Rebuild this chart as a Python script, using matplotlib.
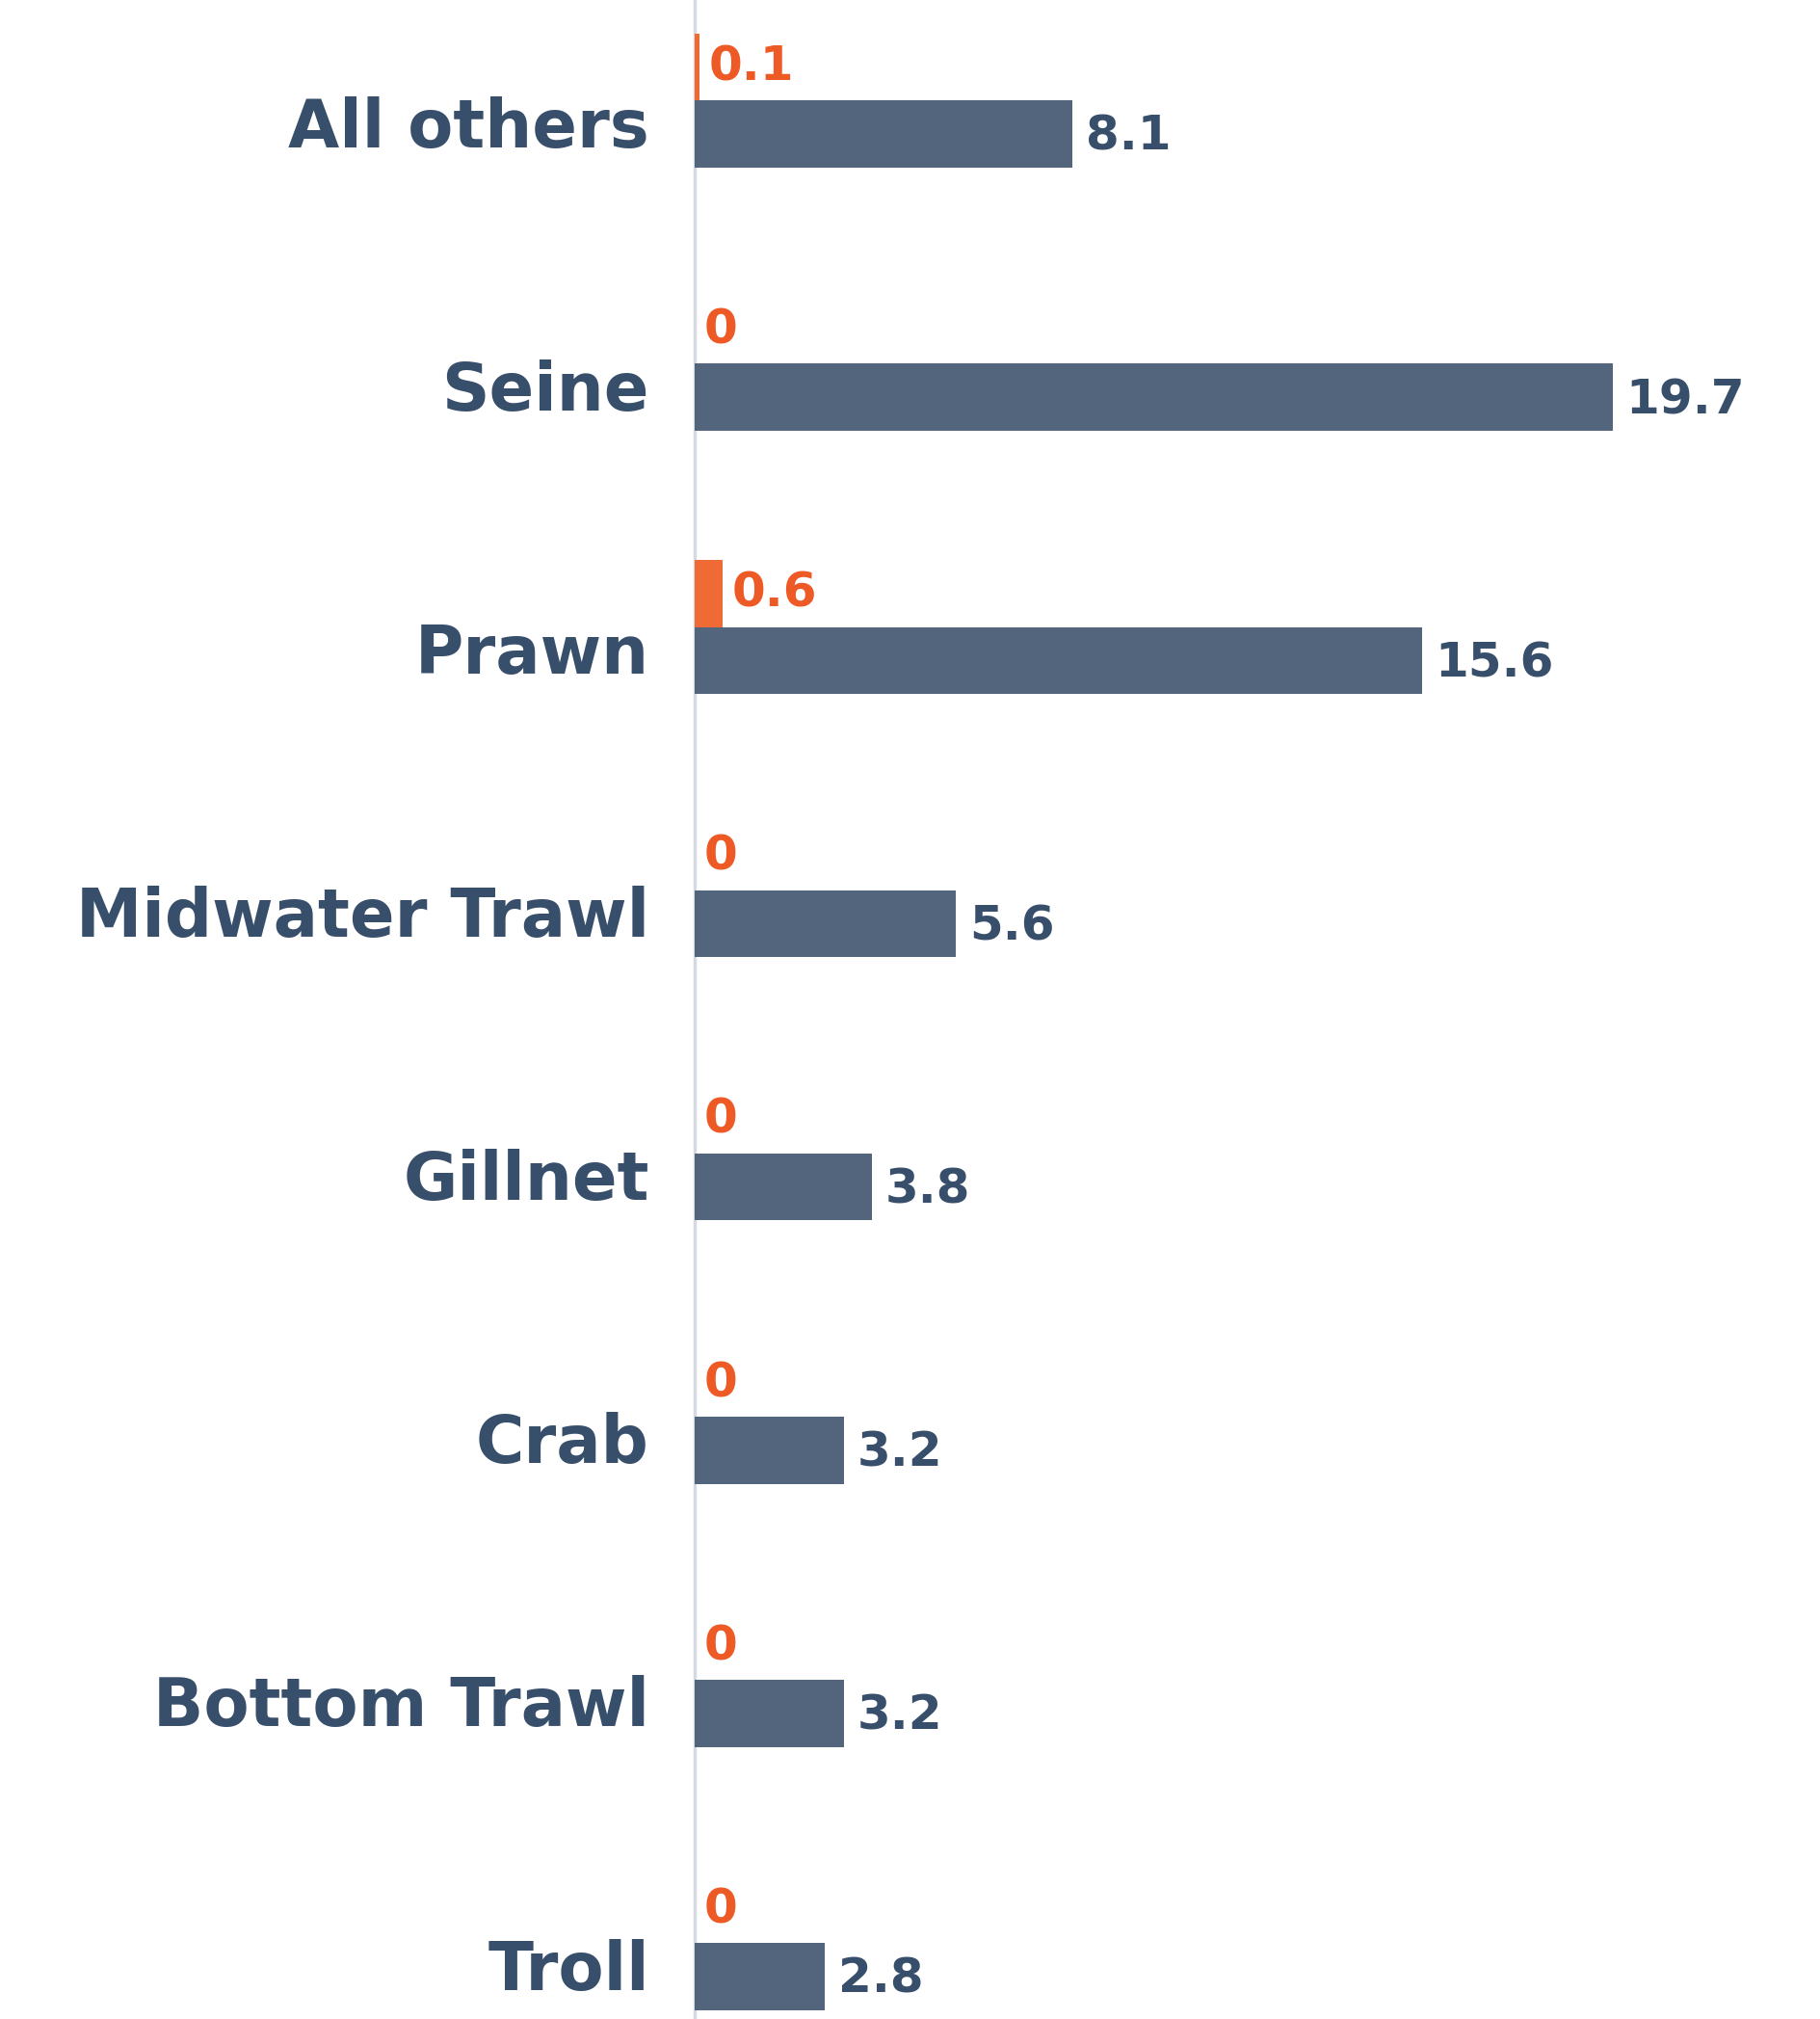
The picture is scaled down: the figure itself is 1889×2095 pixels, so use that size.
import matplotlib
matplotlib.use("Agg")
import matplotlib.pyplot as plt
import matplotlib.transforms as mtransforms
import numpy as np

# data, top to bottom
categories = ["All others", "Seine", "Prawn", "Midwater Trawl", "Gillnet",
              "Crab", "Bottom Trawl", "Troll"]
orange_vals = [0.1, 0, 0.6, 0, 0, 0, 0, 0]
blue_vals = [8.1, 19.7, 15.6, 5.6, 3.8, 3.2, 3.2, 2.8]

BLUE = "#52657d"
TEXT = "#384f6c"
ORANGE = "#ef6a35"
ORANGE_TXT = "#ee5a26"
AXIS = "#d5d9e0"
FONT = "DejaVu Sans"

W, H, DPI = 1890, 2095, 100
fig = plt.figure(figsize=(W / DPI, H / DPI), dpi=DPI)
ax = fig.add_axes([721 / W, 0, 1 - 721 / W, 1])

y = np.arange(len(categories))
bh = 0.255
ax.barh(y - bh / 2, orange_vals, height=bh, color=ORANGE, zorder=3)
ax.barh(y + bh / 2, blue_vals, height=bh, color=BLUE, zorder=3)

ax.set_xlim(0, 24.17)
ax.set_ylim(7.289, -0.382)

for yi, v in zip(y, orange_vals):
    ax.annotate(f"{v:g}", (v, yi - bh / 2), xytext=(7, 0),
                textcoords="offset points", ha="left", va="center",
                fontsize=36, color=ORANGE_TXT, family=FONT, fontweight="bold")
for yi, v in zip(y, blue_vals):
    ax.annotate(f"{v:g}", (v, yi + bh / 2), xytext=(10, -2),
                textcoords="offset points", ha="left", va="center",
                fontsize=36, color=TEXT, family=FONT, fontweight="bold")

ax.set_yticks(y)
ax.set_yticklabels(categories, fontsize=49.5, color=TEXT, family=FONT,
                   fontweight="bold")
ax.tick_params(axis="y", length=0, pad=34)
offset = mtransforms.ScaledTranslation(0, -22 / DPI, fig.dpi_scale_trans)
for lab in ax.get_yticklabels():
    lab.set_transform(lab.get_transform() + offset)
ax.set_xticks([])

for s in ["top", "right", "bottom"]:
    ax.spines[s].set_visible(False)
ax.spines["left"].set_color(AXIS)
ax.spines["left"].set_linewidth(2.5)

fig.savefig("out.png", dpi=DPI, facecolor="white")
